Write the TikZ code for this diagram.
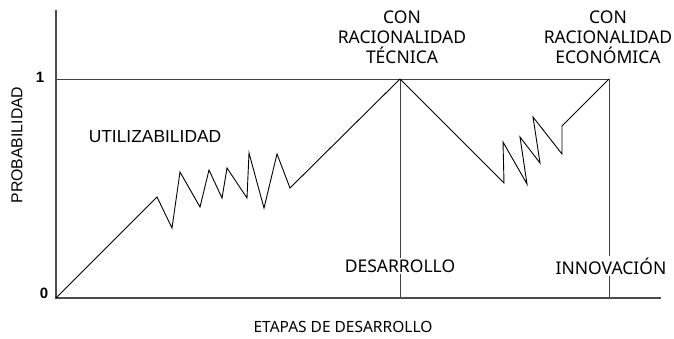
\documentclass[tikz,border=0pt]{standalone}
\usepackage{fontspec}
\setmainfont{Noto Sans}
\newfontfamily\arialfont{Liberation Sans}
\usetikzlibrary{positioning}

\tikzset{
  axis line/.style={draw=black!70, line width=1.3pt},
  guide line/.style={draw=black!75, line width=0.9pt},
  curve line/.style={draw=black, line width=0.9pt, line join=miter},
  stage label/.style={font=\fontsize{17.5}{20}\selectfont, fill=white, inner sep=2pt},
  top label/.style={font=\fontsize{17.5}{20}\selectfont, align=center},
  tick label/.style={font=\arialfont\bfseries\fontsize{15}{17}\selectfont, inner sep=0pt},
}

\begin{document}
\begin{tikzpicture}[x=1pt, y=-1pt]
\useasboundingbox (0,0) rectangle (674,338);

\coordinate (origin) at (56,298);
\coordinate (y-top) at (56,10);
\coordinate (x-end) at (661,298);
\coordinate (one) at (56,79);
\coordinate (tech) at (400,79);
\coordinate (eco) at (609,79);
\coordinate (tech-base) at (400,298);
\coordinate (eco-base) at (609,298);

% axes and guides
\draw [guide line] (one) -- (eco) -- (eco-base);
\draw [guide line] (tech) -- (tech-base);
\draw [axis line] (y-top) -- (origin) -- (x-end);

% utilizabilidad curve
\draw [curve line] (origin)
  \foreach \px/\py in {157/197, 172/228, 180/172, 200/207, 209/170, 222/198,
                       227/168, 247/198, 249/153, 264/208, 277/154, 290/188}
    { -- (\px,\py) } -- (tech);

\draw [curve line] (tech)
  \foreach \px/\py in {504/183, 503/142, 527/184, 520/137, 540/163,
                       533/117, 562/154, 562/126}
    { -- (\px,\py) } -- (eco);

% labels
\node [tick label] (one-label) at (40,77) {1};
\node [tick label] (zero-label) at (44,293) {0};
\node [font=\arialfont\fontsize{15.8}{18}\selectfont, rotate=90] (prob-label) at (17,145) {PROBABILIDAD};
\node [font=\arialfont\fontsize{17.4}{20}\selectfont] (util-label) at (155,137) {UTILIZABILIDAD};
\node [font=\fontsize{15.5}{18}\selectfont] (stages-label) at (343,327) {ETAPAS DE DESARROLLO};

\node [top label] (tech-label) at (402,37) {CON\\RACIONALIDAD\\TÉCNICA};
\node [top label] (eco-label) at (608,37) {CON\\RACIONALIDAD\\ECONÓMICA};

\node [stage label] (dev-label) at (400,266) {DESARROLLO};
\node [stage label] (inn-label) at (611,266) {INNOVACIÓN};
\end{tikzpicture}
\end{document}
